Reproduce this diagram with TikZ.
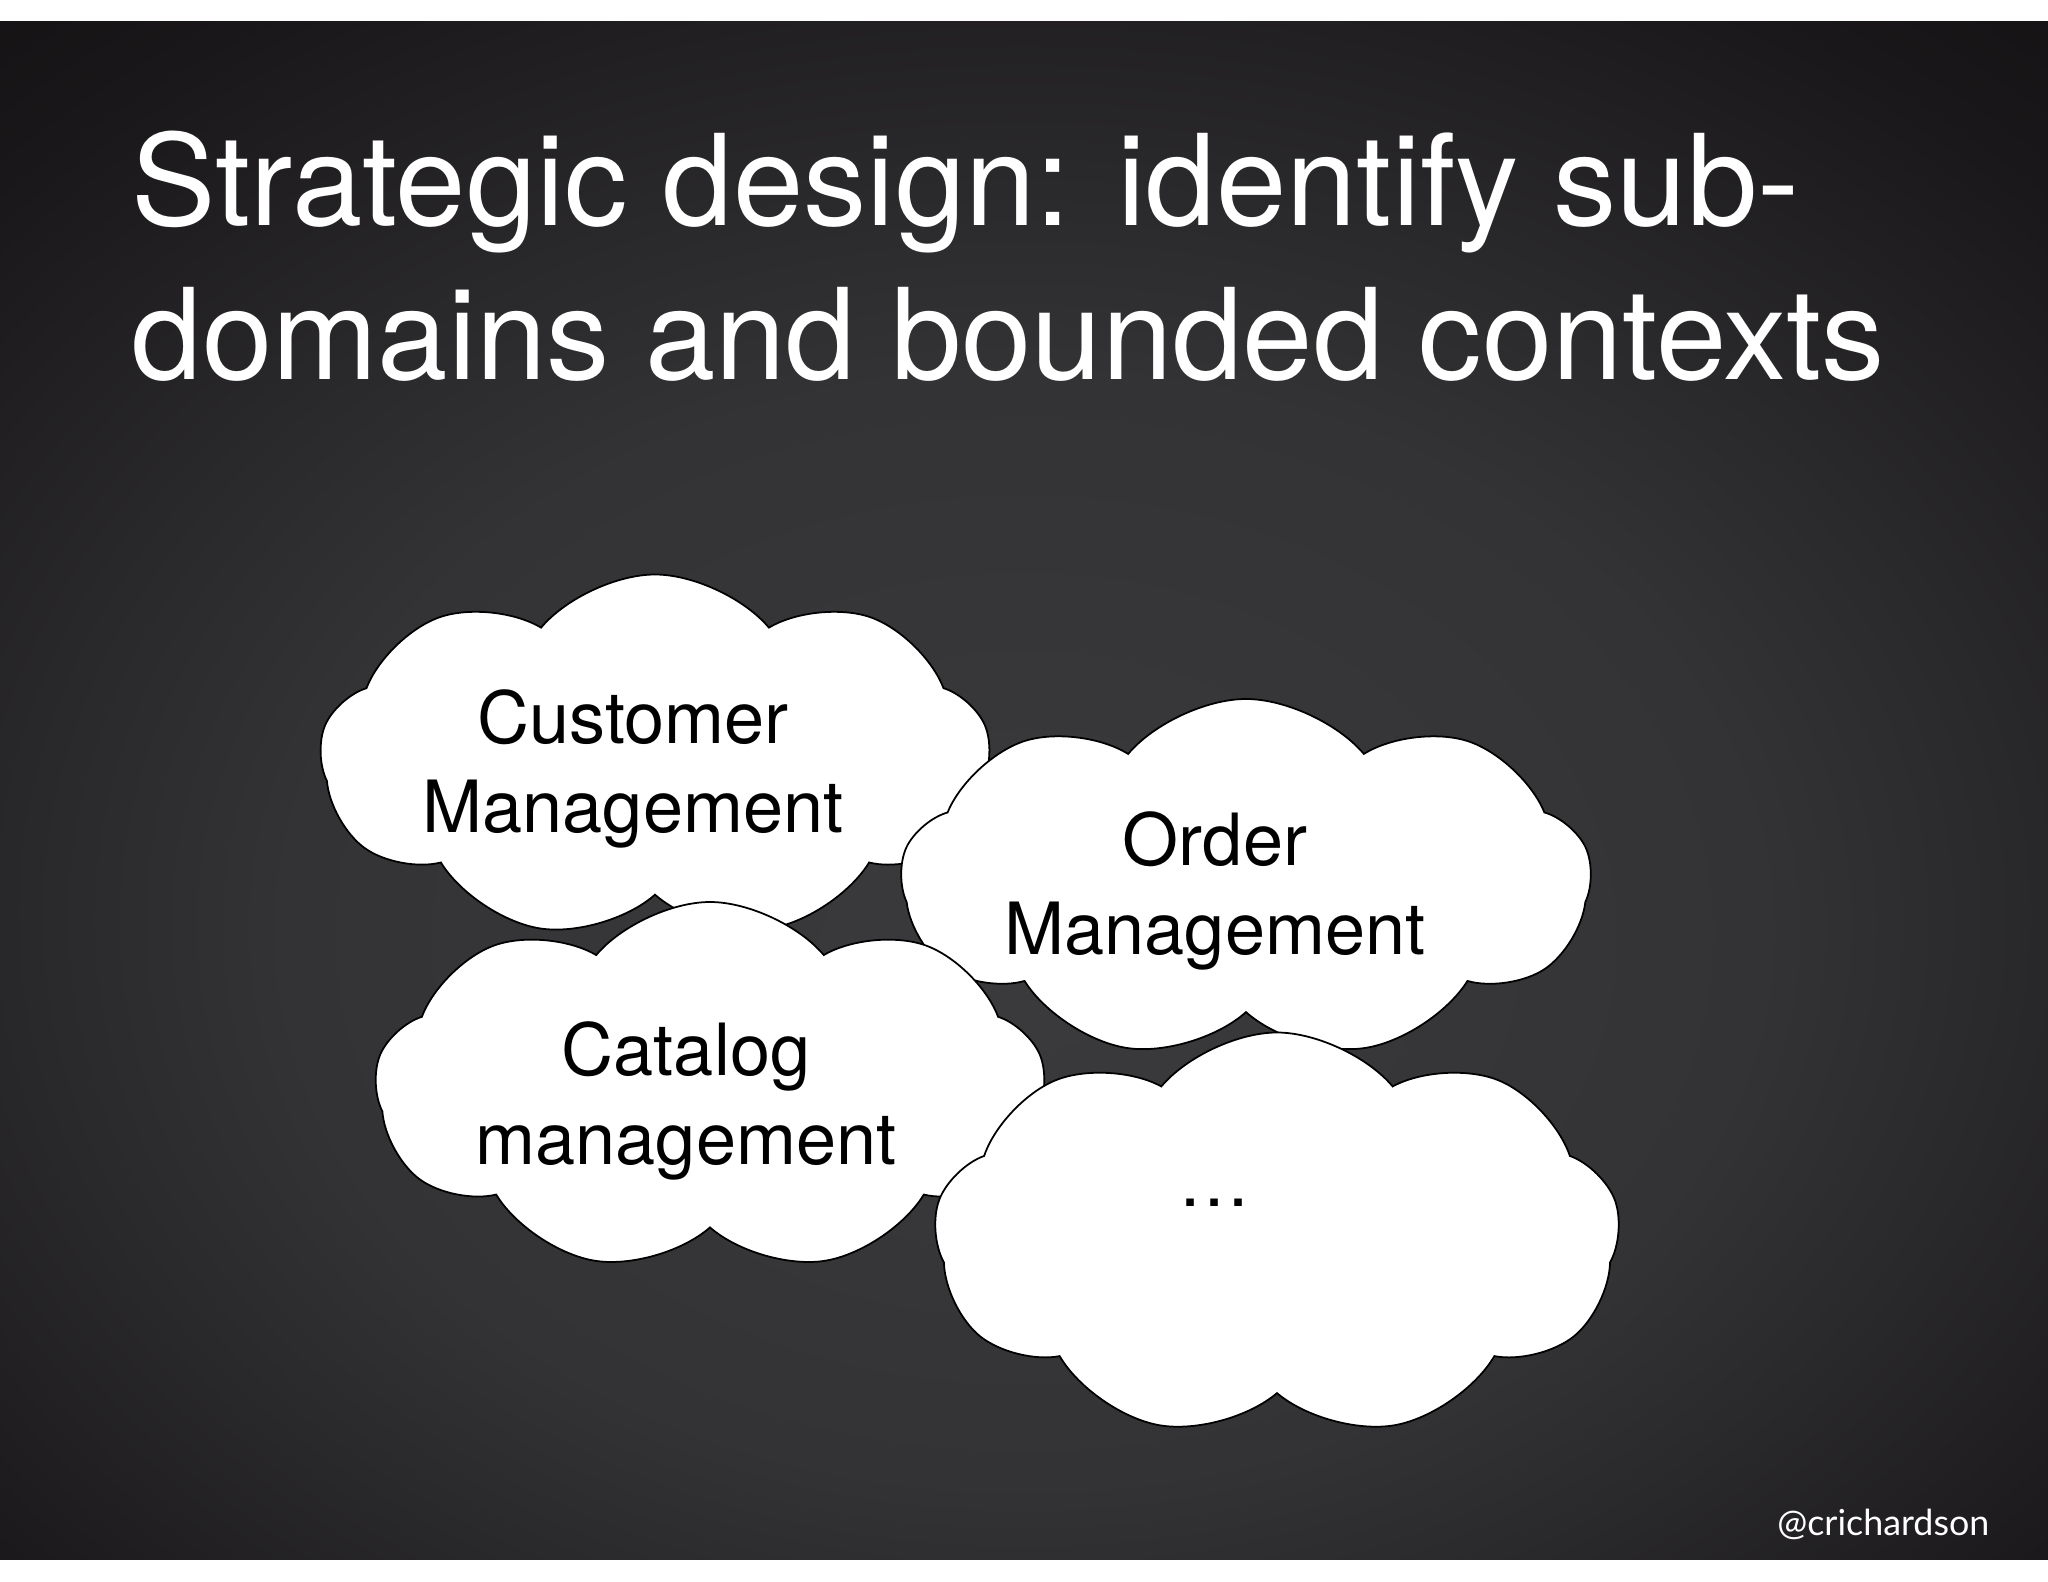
\documentclass[tikz,border=0pt]{standalone}
\usepackage{fontspec}
\setmainfont{TeX Gyre Heros}
\newfontfamily\handlefont{Lato}
\usetikzlibrary{shapes.symbols}

% perforated metal, seen from afar: grey middle, dark rim
\pgfdeclareradialshading{metalbg}{\pgfpoint{0bp}{-6bp}}{%
  rgb(0bp)=(0.23,0.23,0.24); rgb(18bp)=(0.20,0.20,0.21);
  rgb(34bp)=(0.10,0.09,0.10); rgb(48bp)=(0.05,0.035,0.04); rgb(75bp)=(0.04,0.03,0.03)}

\begin{document}
\begin{tikzpicture}[
    subdomain/.style={cloud, draw=black, line width=0.5pt, fill=white, cloud puffs=9,
      cloud puff arc=100, cloud ignores aspect, inner sep=0pt},
    domtext/.style={align=center, inner sep=0pt, font=\fontsize{20.5}{25.5}\selectfont}]
    \useasboundingbox (0,0) rectangle (20.48,-15.82);
    % slide background
    \fill[white] (0,0) rectangle (20.48,-15.82);
    \shade[shading=metalbg] (0,-0.22) rectangle (20.48,-15.59);

    % title
    \node[anchor=north west, inner sep=0pt, align=left, text=white,
      font=\fontsize{36}{44}\selectfont] (title) at (1.31,-1.30)
      {Strategic design: identify sub-\\domains and bounded contexts};

    % sub-domains
    \node[subdomain, minimum width=6.7cm, minimum height=3.65cm] (customer) at (6.55,-7.57) {};
    \node[subdomain, minimum width=6.9cm, minimum height=3.6cm] (order) at (12.46,-8.79) {};
    \node[subdomain, minimum width=6.7cm, minimum height=3.7cm] (catalog) at (7.10,-10.87) {};
    \node[subdomain, minimum width=6.86cm, minimum height=4.05cm] (more) at (12.77,-12.35) {};

    \node[domtext] (customertxt) at (6.33,-7.69) {Customer\\Management};
    \node[domtext] (ordertxt) at (12.15,-8.91) {Order\\Management};
    \node[domtext] (catalogtxt) at (6.86,-11.01) {Catalog\\management};
    \node[domtext] (moretxt) at (12.15,-12.03) {\dots};

    % handle
    \node[anchor=base east, inner sep=0pt, text=white, font=\handlefont\fontsize{10.2}{12}\selectfont]
      (handle) at (19.90,-15.35) {@crichardson};
\end{tikzpicture}
\end{document}
